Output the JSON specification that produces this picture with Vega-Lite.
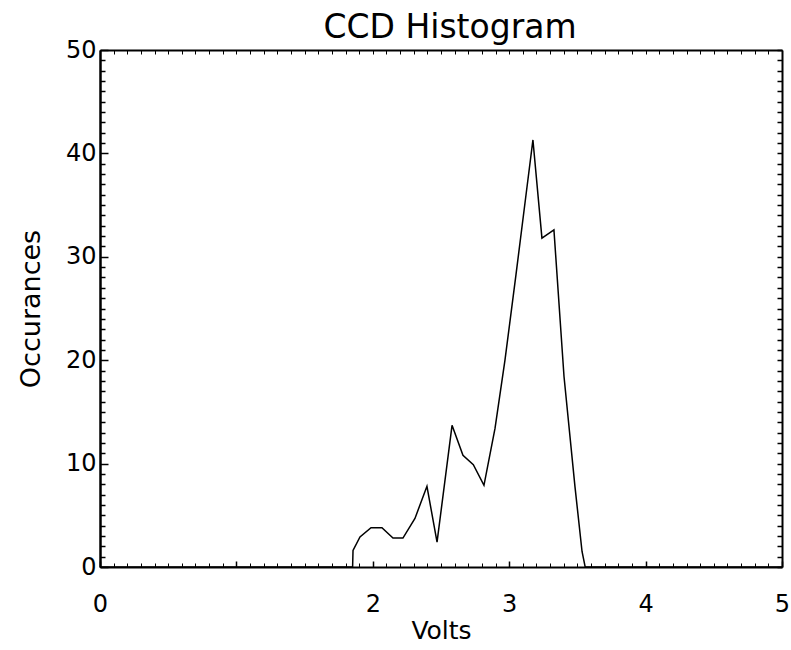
{
  "$schema": "https://vega.github.io/schema/vega-lite/v6.json",
  "width": 682,
  "height": 517,
  "autosize": "none",
  "padding": {"left": 100, "top": 50, "right": 9, "bottom": 83},
  "background": "white",
  "title": {"text": "CCD Histogram", "fontSize": 33, "font": "DejaVu Sans", "fontWeight": "normal", "color": "black", "frame": "group", "offset": -7, "dx": 9},
  "config": {
    "view": {"stroke": null},
    "axis": {
      "grid": false,
      "labelFont": "DejaVu Sans", "labelFontSize": 24, "labelColor": "black",
      "titleFont": "DejaVu Sans", "titleFontSize": 24, "titleFontWeight": "normal", "titleColor": "black",
      "domainColor": "black", "tickColor": "black", "domainWidth": 2, "tickWidth": 1.5
    }
  },
  "data": {"values": [
    {"volts": 0.0, "count": 0},
    {"volts": 1.852, "count": 0},
    {"volts": 1.855, "count": 1.6},
    {"volts": 1.906, "count": 2.9},
    {"volts": 1.987, "count": 3.8},
    {"volts": 2.067, "count": 3.8},
    {"volts": 2.148, "count": 2.8},
    {"volts": 2.221, "count": 2.8},
    {"volts": 2.309, "count": 4.7},
    {"volts": 2.397, "count": 7.8},
    {"volts": 2.471, "count": 2.4},
    {"volts": 2.581, "count": 13.7},
    {"volts": 2.661, "count": 10.8},
    {"volts": 2.737, "count": 9.9},
    {"volts": 2.815, "count": 7.9},
    {"volts": 2.896, "count": 13.4},
    {"volts": 2.969, "count": 20.0},
    {"volts": 3.05, "count": 28.3},
    {"volts": 3.13, "count": 36.7},
    {"volts": 3.174, "count": 41.3},
    {"volts": 3.24, "count": 31.8},
    {"volts": 3.328, "count": 32.6},
    {"volts": 3.402, "count": 18.4},
    {"volts": 3.482, "count": 7.8},
    {"volts": 3.534, "count": 1.5},
    {"volts": 3.557, "count": 0},
    {"volts": 5.0, "count": 0}
  ]},
  "layer": [
    {
      "mark": {"type": "line", "color": "black", "strokeWidth": 1.5},
      "encoding": {
        "x": {"field": "volts", "type": "quantitative", "scale": {"domain": [0, 5], "nice": false, "zero": false},
              "axis": {"orient": "bottom", "title": "Volts", "values": [0, 1, 2, 3, 4, 5], "labelExpr": "datum.value == 1 ? '' : datum.label", "tickSize": -6, "labelPadding": 31, "titlePadding": 2, "labelFlush": false, "titleFontSize": 25}},
        "y": {"field": "count", "type": "quantitative", "scale": {"domain": [0, 50], "nice": false},
              "axis": {"orient": "left", "title": "Occurances", "values": [0, 10, 20, 30, 40, 50], "tickSize": -8, "labelPadding": 12, "titlePadding": 20, "titleFontSize": 27}}
      }
    },
    {
      "mark": {"type": "line", "opacity": 0},
      "encoding": {
        "x": {"field": "volts", "type": "quantitative",
              "axis": {"orient": "top", "title": null, "labels": false, "tickSize": -4, "tickWidth": 1,
                       "values": [0,0.1,0.2,0.3,0.4,0.5,0.6,0.7,0.8,0.9,1,1.1,1.2,1.3,1.4,1.5,1.6,1.7,1.8,1.9,2,2.1,2.2,2.3,2.4,2.5,2.6,2.7,2.8,2.9,3,3.1,3.2,3.3,3.4,3.5,3.6,3.7,3.8,3.9,4,4.1,4.2,4.3,4.4,4.5,4.6,4.7,4.8,4.9,5]}},
        "y": {"field": "count", "type": "quantitative",
              "axis": {"orient": "right", "title": null, "labels": false, "tickSize": -5,
                       "values": [0,1,2,3,4,5,6,7,8,9,10,11,12,13,14,15,16,17,18,19,20,21,22,23,24,25,26,27,28,29,30,31,32,33,34,35,36,37,38,39,40,41,42,43,44,45,46,47,48,49,50]}}
      }
    },
    {
      "mark": {"type": "line", "opacity": 0},
      "encoding": {
        "x": {"field": "volts", "type": "quantitative",
              "axis": {"orient": "bottom", "title": null, "labels": false, "domain": false, "tickSize": -4, "tickWidth": 1,
                       "values": [0.1,0.2,0.3,0.4,0.5,0.6,0.7,0.8,0.9,1.1,1.2,1.3,1.4,1.5,1.6,1.7,1.8,1.9,2.1,2.2,2.3,2.4,2.5,2.6,2.7,2.8,2.9,3.1,3.2,3.3,3.4,3.5,3.6,3.7,3.8,3.9,4.1,4.2,4.3,4.4,4.5,4.6,4.7,4.8,4.9]}},
        "y": {"field": "count", "type": "quantitative",
              "axis": {"orient": "left", "title": null, "labels": false, "domain": true, "tickSize": -5,
                       "values": [1,2,3,4,5,6,7,8,9,11,12,13,14,15,16,17,18,19,21,22,23,24,25,26,27,28,29,31,32,33,34,35,36,37,38,39,41,42,43,44,45,46,47,48,49]}}
      }
    }
  ]
}
